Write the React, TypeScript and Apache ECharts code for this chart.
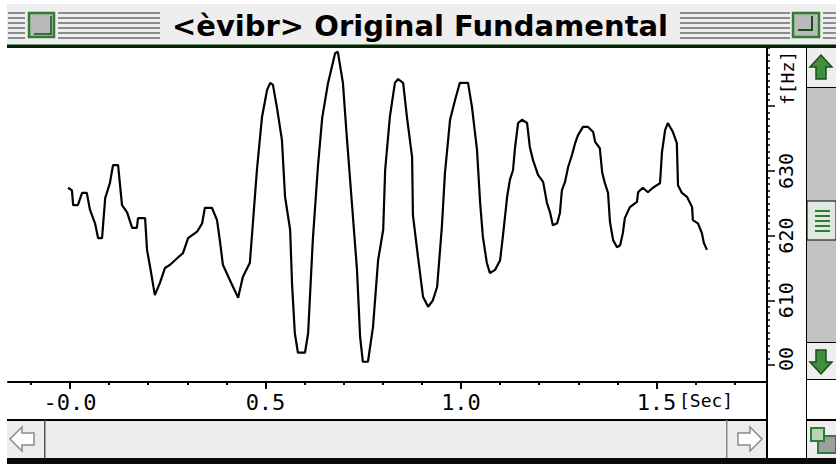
import React, { useEffect, useRef } from "react";
import * as echarts from "echarts";

// Fundamental frequency track: time in seconds, frequency in Hz
const timeSec = [
  -0.005, 0.005, 0.008, 0.02, 0.031, 0.043, 0.051, 0.064, 0.072, 0.082, 0.09, 0.102, 0.11, 0.123,
  0.133, 0.146, 0.159, 0.171, 0.174, 0.192, 0.197, 0.205, 0.217, 0.23, 0.243, 0.256, 0.274, 0.289,
  0.302, 0.325, 0.338, 0.345, 0.363, 0.376, 0.384, 0.391, 0.409, 0.43, 0.442, 0.46, 0.468, 0.478,
  0.491, 0.504, 0.512, 0.519, 0.529, 0.542, 0.55, 0.563, 0.568, 0.575, 0.583, 0.601, 0.609, 0.621,
  0.634, 0.645, 0.66, 0.678, 0.685, 0.698, 0.708, 0.721, 0.734, 0.742, 0.749, 0.762, 0.775, 0.788,
  0.801, 0.806, 0.818, 0.831, 0.839, 0.852, 0.862, 0.875, 0.877, 0.89, 0.903, 0.916, 0.928, 0.939,
  0.951, 0.959, 0.972, 0.985, 0.997, 1.018, 1.028, 1.041, 1.049, 1.056, 1.066, 1.074, 1.087, 1.1,
  1.107, 1.118, 1.125, 1.133, 1.138, 1.146, 1.156, 1.169, 1.176, 1.184, 1.197, 1.21, 1.22, 1.228,
  1.235, 1.246, 1.253, 1.258, 1.266, 1.274, 1.284, 1.292, 1.299, 1.312, 1.325, 1.338, 1.343, 1.355,
  1.361, 1.368, 1.376, 1.381, 1.389, 1.399, 1.407, 1.414, 1.419, 1.432, 1.45, 1.453, 1.465, 1.478,
  1.491, 1.501, 1.509, 1.514, 1.522, 1.529, 1.542, 1.552, 1.555, 1.565, 1.578, 1.591, 1.593, 1.606,
  1.616, 1.621, 1.629,
];
const pitchHz = [
  627.4, 627.0, 624.7, 624.7, 626.6, 626.6, 624.0, 621.9, 619.6, 619.6, 625.8, 628.1, 630.9, 630.9,
  624.7, 623.6, 621.2, 621.2, 622.7, 622.7, 617.8, 615.1, 610.8, 612.7, 615.0, 615.5, 616.5, 617.3,
  619.6, 620.6, 621.9, 624.3, 624.3, 622.4, 618.9, 615.5, 613.1, 610.4, 613.6, 615.8, 622.1, 630.1,
  638.3, 642.5, 643.6, 643.3, 639.9, 634.8, 626.0, 620.9, 612.4, 604.9, 601.9, 601.9, 604.9, 619.3,
  630.6, 638.2, 643.6, 648.2, 648.4, 643.6, 635.2, 625.0, 614.7, 604.3, 600.5, 600.5, 605.9, 616.2,
  620.9, 630.1, 638.3, 643.6, 644.2, 643.6, 638.2, 632.1, 623.2, 616.7, 610.5, 609.0, 610.0, 612.1,
  621.3, 629.7, 637.9, 641.0, 643.6, 643.6, 639.9, 633.2, 625.0, 619.8, 615.8, 614.2, 614.7, 616.2,
  619.8, 626.0, 628.6, 630.1, 633.5, 637.4, 637.9, 637.4, 633.7, 631.7, 629.4, 628.3, 625.0, 623.5,
  621.6, 621.9, 623.5, 627.0, 628.3, 630.6, 632.5, 634.3, 635.5, 636.8, 636.8, 636.0, 634.5, 633.5,
  629.8, 628.1, 626.6, 622.1, 619.3, 618.2, 618.5, 620.4, 622.7, 624.4, 625.2, 626.7, 627.4, 626.7,
  627.4, 627.8, 628.1, 632.9, 636.3, 637.4, 636.0, 634.3, 627.8, 626.6, 626.0, 624.4, 622.4, 621.9,
  620.4, 618.9, 617.8,
];

const xTickValues = [0, 0.5, 1.0, 1.5];
const xTickLabels = ["-0.0", "0.5", "1.0", "1.5"];
const xMinorTicks = [-0.1, 0.1, 0.2, 0.3, 0.4, 0.6, 0.7, 0.8, 0.9, 1.1, 1.2, 1.3, 1.4, 1.6, 1.7];
const yTickValues = [600, 610, 620, 630];
const yTickLabels = ["600", "610", "620", "630"];
const xUnit = "[Sec]";
const yUnit = "f[Hz]";
const windowTitle = "<èvibr> Original Fundamental";

// Window geometry (pixels)
const W = 836;
const H = 464;
const PLOT_LEFT = 8;
const ORIGIN_X = 70; // pixel of t = 0
const PX_PER_SEC = 391;
const AXIS_X = 767; // vertical axis / divider
const Y600 = 365; // pixel of 600 Hz
const PX_PER_HZ = 6.47;
const X_AXIS_Y = 382;

const X_MIN = (PLOT_LEFT - ORIGIN_X) / PX_PER_SEC;
const X_MAX = (AXIS_X - ORIGIN_X) / PX_PER_SEC;
const Y_MIN = 600;
const Y_MAX = 650;

const GREEN = "#2f7d32";
const DARK_GREEN = "#1b4d1e";

function pick(values: number[], labels: string[], v: number) {
  const i = values.findIndex((t) => Math.abs(t - v) < 1e-6);
  return i >= 0 ? labels[i] : "";
}

function stripes(x0: number, x1: number) {
  const out: any[] = [];
  for (let i = 0; i < 6; i++) {
    out.push({
      type: "rect",
      z: 20,
      shape: { x: x0, y: 12 + i * 5, width: x1 - x0, height: 2 },
      style: { fill: "#8c8c8c" },
    });
  }
  return out;
}

function buildChrome() {
  const g: any[] = [];
  // title bar
  g.push({ type: "rect", z: 19, shape: { x: 7, y: 4, width: W - 7, height: 41 }, style: { fill: "#eeeeee" } });
  g.push(...stripes(8, 25), ...stripes(58, 160), ...stripes(680, 790), ...stripes(823, 836));
  // close box
  g.push({ type: "rect", z: 21, shape: { x: 27, y: 11, width: 29, height: 28 }, style: { fill: "#eeeeee" } });
  g.push({ type: "rect", z: 22, shape: { x: 29, y: 13, width: 25, height: 24 }, style: { fill: "#b9b9b9", stroke: GREEN, lineWidth: 2.5 } });
  g.push({ type: "polyline", z: 23, shape: { points: [[34, 34], [51, 34], [51, 16]] }, style: { stroke: DARK_GREEN, lineWidth: 1.5, fill: null } });
  // zoom box
  g.push({ type: "rect", z: 21, shape: { x: 790, y: 11, width: 32, height: 28 }, style: { fill: "#eeeeee" } });
  g.push({ type: "rect", z: 22, shape: { x: 793, y: 13, width: 26, height: 24 }, style: { fill: "#b9b9b9", stroke: GREEN, lineWidth: 2.5 } });
  g.push({ type: "polyline", z: 23, shape: { points: [[798, 30], [812, 30], [812, 16]] }, style: { stroke: DARK_GREEN, lineWidth: 2, fill: null } });
  // title
  g.push({
    type: "text",
    z: 24,
    x: 420,
    y: 26,
    style: {
      text: windowTitle,
      font: 'bold 29px "DejaVu Sans"',
      fill: "#000",
      align: "center",
      verticalAlign: "middle",
    },
  });
  // title bar underline
  g.push({ type: "rect", z: 24, shape: { x: 7, y: 44, width: W - 7, height: 1 }, style: { fill: "#6f9a6f" } });
  g.push({ type: "rect", z: 24, shape: { x: 7, y: 45, width: W - 7, height: 3 }, style: { fill: "#0e1f0e" } });

  // cover area under the plot on the right (clips axis labels)
  g.push({ type: "rect", z: 19, shape: { x: AXIS_X + 1, y: 372, width: 38, height: 48 }, style: { fill: "#ffffff" } });

  // vertical divider at the axis
  g.push({ type: "rect", z: 25, shape: { x: AXIS_X - 1, y: 48, width: 2, height: 410 }, style: { fill: "#000" } });

  // right scrollbar
  const sx = 806;
  g.push({ type: "rect", z: 20, shape: { x: sx, y: 48, width: W - sx, height: 332 }, style: { fill: "#c2c2c2" } });
  g.push({ type: "rect", z: 21, shape: { x: sx, y: 48, width: 1, height: 410 }, style: { fill: "#000" } });
  // up arrow box
  g.push({ type: "rect", z: 21, shape: { x: sx + 1, y: 48, width: W - sx - 1, height: 39 }, style: { fill: "#eeeeee" } });
  g.push({ type: "rect", z: 21, shape: { x: sx + 1, y: 87, width: W - sx - 1, height: 1 }, style: { fill: "#000" } });
  g.push({
    type: "polygon",
    z: 22,
    shape: { points: [[821, 55], [810, 67], [816, 67], [816, 79], [826, 79], [826, 67], [832, 67]] },
    style: { fill: "#3f8f3f", stroke: DARK_GREEN, lineWidth: 1.5 },
  });
  // thumb
  g.push({ type: "rect", z: 21, shape: { x: sx + 1, y: 201, width: W - sx - 1, height: 39 }, style: { fill: "#dfe9df", stroke: "#000", lineWidth: 1 } });
  for (let i = 0; i < 5; i++) {
    g.push({ type: "rect", z: 22, shape: { x: 815, y: 210 + i * 5, width: 15, height: 2 }, style: { fill: GREEN } });
  }
  // down arrow box
  g.push({ type: "rect", z: 21, shape: { x: sx + 1, y: 343, width: W - sx - 1, height: 37 }, style: { fill: "#eeeeee" } });
  g.push({ type: "rect", z: 21, shape: { x: sx + 1, y: 342, width: W - sx - 1, height: 1 }, style: { fill: "#000" } });
  g.push({
    type: "polygon",
    z: 22,
    shape: { points: [[821, 374], [810, 362], [816, 362], [816, 350], [826, 350], [826, 362], [832, 362]] },
    style: { fill: "#3f8f3f", stroke: DARK_GREEN, lineWidth: 1.5 },
  });
  g.push({ type: "rect", z: 21, shape: { x: sx, y: 379, width: W - sx, height: 1 }, style: { fill: "#000" } });

  // bottom scrollbar
  g.push({ type: "rect", z: 20, shape: { x: 7, y: 420, width: AXIS_X - 7, height: 38 }, style: { fill: "#ececec" } });
  g.push({ type: "rect", z: 21, shape: { x: 7, y: 419, width: AXIS_X - 7, height: 2 }, style: { fill: "#000" } });
  g.push({ type: "rect", z: 21, shape: { x: 44, y: 420, width: 1.5, height: 38 }, style: { fill: "#555" } });
  g.push({ type: "rect", z: 21, shape: { x: 726, y: 420, width: 1.5, height: 38 }, style: { fill: "#888" } });
  g.push({
    type: "polygon",
    z: 22,
    shape: { points: [[10, 439], [22, 427], [22, 433], [34, 433], [34, 445], [22, 445], [22, 451]] },
    style: { fill: "#ffffff", stroke: "#8a8a8a", lineWidth: 1.5 },
  });
  g.push({
    type: "polygon",
    z: 22,
    shape: { points: [[762, 439], [750, 427], [750, 433], [738, 433], [738, 445], [750, 445], [750, 451]] },
    style: { fill: "#ffffff", stroke: "#8a8a8a", lineWidth: 1.5 },
  });
  // grow box
  g.push({ type: "rect", z: 20, shape: { x: sx, y: 420, width: W - sx, height: 38 }, style: { fill: "#eeeeee" } });
  g.push({ type: "rect", z: 21, shape: { x: sx, y: 419, width: W - sx, height: 2 }, style: { fill: "#000" } });
  g.push({ type: "rect", z: 22, shape: { x: 818, y: 436, width: 18, height: 17 }, style: { fill: "#9e9e9e", stroke: GREEN, lineWidth: 2 } });
  g.push({ type: "rect", z: 23, shape: { x: 811, y: 428, width: 13, height: 13 }, style: { fill: "#b9d3b9", stroke: GREEN, lineWidth: 2 } });
  // window bottom edge
  g.push({ type: "rect", z: 25, shape: { x: 7, y: 458, width: W - 7, height: 6 }, style: { fill: "#0a0a0a" } });

  // units
  g.push({
    type: "text",
    z: 24,
    x: 679,
    y: 400,
    style: { text: xUnit, font: '18px "DejaVu Sans Mono"', fill: "#000", align: "left", verticalAlign: "middle" },
  });
  g.push({
    type: "text",
    z: 24,
    x: 787,
    y: 78,
    rotation: Math.PI / 2,
    style: { text: yUnit, font: '18px "DejaVu Sans Mono"', fill: "#000", align: "center", verticalAlign: "middle" },
  });
  return g;
}

export default function App() {
  const ref = useRef<HTMLDivElement>(null);

  useEffect(() => {
    if (!ref.current) return;
    const chart = echarts.init(ref.current, null, { renderer: "svg" });
    const gridTop = Y600 - (Y_MAX - Y_MIN) * PX_PER_HZ;
    const xBase = {
      type: "value",
      min: X_MIN,
      max: X_MAX,
      position: "bottom",
      offset: X_AXIS_Y - Y600,
      splitLine: { show: false },
    };
    chart.setOption({
      animation: false,
      backgroundColor: "#ffffff",
      grid: {
        left: PLOT_LEFT,
        top: gridTop,
        width: AXIS_X - PLOT_LEFT,
        height: Y600 - gridTop,
        containLabel: false,
      },
      xAxis: [
        {
          ...xBase,
          axisLine: { show: true, onZero: false, lineStyle: { color: "#000", width: 2 } },
          axisTick: { show: true, length: 7, customValues: xTickValues, lineStyle: { color: "#000", width: 2 } },
          axisLabel: {
            color: "#000",
            fontFamily: "DejaVu Sans Mono",
            fontSize: 22,
            margin: 9,
            customValues: xTickValues,
            formatter: (v: number) => pick(xTickValues, xTickLabels, v),
          },
        },
        {
          ...xBase,
          axisLine: { show: false, onZero: false },
          axisTick: { show: true, length: 3, customValues: xMinorTicks, lineStyle: { color: "#000", width: 2 } },
          axisLabel: { show: false },
        },
      ],
      yAxis: {
        type: "value",
        min: Y_MIN,
        max: Y_MAX,
        interval: 10,
        position: "right",
        axisLine: { show: true, onZero: false, lineStyle: { color: "#000", width: 2 } },
        axisTick: { show: true, length: 8, lineStyle: { color: "#000", width: 1.5 } },
        minorTick: { show: true, splitNumber: 10, length: 3, lineStyle: { color: "#000", width: 1.5 } },
        splitLine: { show: false },
        axisLabel: {
          color: "#000",
          fontFamily: "DejaVu Sans Mono",
          fontSize: 20,
          rotate: 90,
          margin: 9,
          formatter: (v: number) => pick(yTickValues, yTickLabels, v),
        },
      },
      series: [
        {
          type: "line",
          xAxisIndex: 0,
          data: timeSec.map((t, i) => [t, pitchHz[i]]),
          showSymbol: false,
          clip: false,
          lineStyle: { color: "#000", width: 2.2 },
          z: 5,
        },
      ],
      graphic: buildChrome(),
    });
    return () => chart.dispose();
  }, []);

  return (
    <div
      ref={ref}
      style={{ position: "absolute", left: 0, top: 0, width: W, height: H, background: "#fff" }}
    />
  );
}
